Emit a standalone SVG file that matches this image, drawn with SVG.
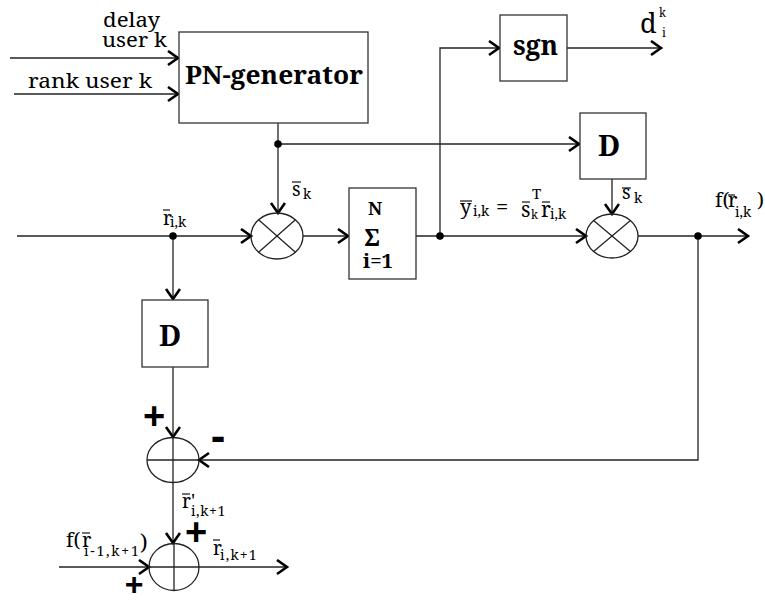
<svg xmlns="http://www.w3.org/2000/svg" width="765" height="601" viewBox="0 0 765 601">
<defs>
<style>
.ln{fill:none;stroke:#222;stroke-width:1.3}
.bx{fill:#fff;stroke:#333;stroke-width:1.3}
.ov{stroke:#111;stroke-width:1.2}
text{font-family:"Noto Serif","DejaVu Serif",serif;fill:#000}
.b{font-weight:bold}
.s{font-family:"Liberation Sans","DejaVu Sans",sans-serif;font-weight:bold}
</style>
<marker id="a" markerUnits="userSpaceOnUse" markerWidth="16" markerHeight="18" refX="12" refY="8" orient="auto">
<path d="M2,1 L12,8 L2,15" fill="none" stroke="#000" stroke-width="2.6"/>
</marker>
</defs>
<rect width="765" height="601" fill="#fff"/>

<g id="connectors">
<line class="ln" x1="10" y1="58" x2="178" y2="58" marker-end="url(#a)"/>
<line class="ln" x1="14" y1="94" x2="178" y2="94" marker-end="url(#a)"/>
<line class="ln" x1="278" y1="123" x2="278" y2="213" marker-end="url(#a)"/>
<line class="ln" x1="278" y1="144" x2="579" y2="144" marker-end="url(#a)"/>
<line class="ln" x1="17" y1="236" x2="251" y2="236" marker-end="url(#a)"/>
<line class="ln" x1="303" y1="236" x2="348" y2="236" marker-end="url(#a)"/>
<line class="ln" x1="416" y1="236" x2="586" y2="236" marker-end="url(#a)"/>
<polyline class="ln" points="440,236 440,48 499,48" marker-end="url(#a)"/>
<line class="ln" x1="567" y1="48" x2="661" y2="48" marker-end="url(#a)"/>
<line class="ln" x1="612" y1="179" x2="612" y2="214" marker-end="url(#a)"/>
<line class="ln" x1="638" y1="236" x2="748" y2="236" marker-end="url(#a)"/>
<polyline class="ln" points="698,236 698,460 199,460" marker-end="url(#a)"/>
<line class="ln" x1="173" y1="236" x2="173" y2="299" marker-end="url(#a)"/>
<line class="ln" x1="173" y1="367" x2="173" y2="437" marker-end="url(#a)"/>
<line class="ln" x1="173" y1="483" x2="173" y2="543" marker-end="url(#a)"/>
<line class="ln" x1="59" y1="567" x2="149" y2="567" marker-end="url(#a)"/>
<line class="ln" x1="199" y1="567" x2="287" y2="567" marker-end="url(#a)"/>
<circle cx="278" cy="144" r="3.8" fill="#000"/>
<circle cx="173" cy="236" r="3.8" fill="#000"/>
<circle cx="440" cy="236" r="3.8" fill="#000"/>
<circle cx="698" cy="236" r="3.8" fill="#000"/>
</g>

<g id="pn-generator">
<rect class="bx" x="179" y="32" width="189" height="91"/>
<text class="b" x="185" y="84" font-size="26" textLength="178" lengthAdjust="spacingAndGlyphs">PN-generator</text>
</g>
<g id="inputs-labels">
<text x="160" y="27" font-size="19" text-anchor="end" textLength="57" lengthAdjust="spacingAndGlyphs">delay</text>
<text x="167" y="47" font-size="19" text-anchor="end" textLength="65" lengthAdjust="spacingAndGlyphs">user k</text>
<text x="28" y="88" font-size="20" textLength="124" lengthAdjust="spacingAndGlyphs">rank user k</text>
</g>

<g id="sgn">
<rect class="bx" x="500" y="15" width="67" height="66"/>
<text class="b" x="513" y="55" font-size="27" textLength="45" lengthAdjust="spacingAndGlyphs">sgn</text>
</g>
<g id="out-d">
<text x="640" y="33" font-size="27">d<tspan x="659" y="17" font-size="12">k</tspan><tspan x="662" y="37" font-size="12">i</tspan></text>
</g>

<g id="delay-right">
<rect class="bx" x="580" y="113" width="66" height="66"/>
<text class="b" x="609" y="156" font-size="29" text-anchor="middle">D</text>
</g>

<g id="mult1">
<ellipse class="ln" cx="277" cy="236" rx="26" ry="23"/>
<line class="ln" x1="258.6" y1="219.7" x2="295.4" y2="252.3"/>
<line class="ln" x1="258.6" y1="252.3" x2="295.4" y2="219.7"/>
</g>

<g id="sum">
<rect class="bx" x="349" y="188" width="67" height="91"/>
<text class="b" x="375" y="215" font-size="18" text-anchor="middle">N</text>
<text class="b" x="372" y="246" font-size="24" text-anchor="middle">Σ</text>
<text class="b" x="363" y="268" font-size="20" textLength="30" lengthAdjust="spacingAndGlyphs">i=1</text>
</g>

<g id="mult2">
<ellipse class="ln" cx="612" cy="236" rx="26" ry="22"/>
<line class="ln" x1="593.6" y1="220.4" x2="630.4" y2="251.6"/>
<line class="ln" x1="593.6" y1="251.6" x2="630.4" y2="220.4"/>
</g>

<g id="delay-left">
<rect class="bx" x="142" y="300" width="66" height="67"/>
<text class="b" x="170" y="346" font-size="29" text-anchor="middle">D</text>
</g>

<g id="adder1">
<ellipse class="ln" cx="173" cy="460" rx="26" ry="22.5"/>
<line class="ln" x1="147" y1="460" x2="199" y2="460" stroke-width="2"/>
<line class="ln" x1="173" y1="437" x2="173" y2="483"/>
<text class="s" x="154" y="429" font-size="38" text-anchor="middle">+</text>
<text class="s" x="218" y="451" font-size="44" text-anchor="middle">-</text>
</g>

<g id="adder2">
<ellipse class="ln" cx="174" cy="567" rx="25" ry="23.5"/>
<line class="ln" x1="149" y1="567" x2="199" y2="567" stroke-width="2"/>
<line class="ln" x1="174" y1="543" x2="174" y2="590"/>
<text class="s" x="196" y="545" font-size="38" text-anchor="middle">+</text>
<text class="s" x="134" y="595" font-size="32" text-anchor="middle">+</text>
</g>

<g id="labels">
<text x="163" y="225" font-size="19">r<tspan x="170" y="227" font-size="14">i,k</tspan></text>
<line class="ov" x1="163" y1="210" x2="170" y2="210"/>

<text x="292" y="196" font-size="19">s<tspan x="303" y="199" font-size="14">k</tspan></text>
<line class="ov" x1="292" y1="182" x2="301" y2="182"/>

<text x="460" y="214" font-size="20">y<tspan x="473" y="216" font-size="14">i,k</tspan><tspan x="496" y="214" font-size="22">=</tspan><tspan x="521" y="217" font-size="21">s</tspan><tspan x="531" y="219" font-size="12">k</tspan><tspan x="532" y="199" font-size="15">T</tspan><tspan x="541" y="217" font-size="21">r</tspan><tspan x="550" y="219" font-size="14">i,k</tspan></text>
<line class="ov" x1="460" y1="201" x2="472" y2="201"/>
<line class="ov" x1="522" y1="202" x2="530" y2="202"/>
<line class="ov" x1="542" y1="202" x2="550" y2="202"/>

<text x="622" y="199" font-size="19">s<tspan x="634" y="203" font-size="14">k</tspan></text>
<line class="ov" x1="622" y1="188" x2="631" y2="188"/>

<text x="715" y="207" font-size="20">f(<tspan x="728" y="207">r</tspan><tspan x="735" y="217" font-size="14">i,k</tspan><tspan x="757" y="207">)</tspan></text>
<line class="ov" x1="728" y1="195" x2="735" y2="195"/>

<text x="182" y="508" font-size="19">r'<tspan x="191" y="516" font-size="14" letter-spacing="0.6">i,k+1</tspan></text>
<line class="ov" x1="182" y1="494" x2="190" y2="494"/>

<text x="66" y="547" font-size="20">f(<tspan x="82" y="547">r</tspan><tspan x="84" y="556" font-size="14" letter-spacing="1.8">i-1,k+1</tspan><tspan x="140" y="550" font-size="22">)</tspan></text>
<line class="ov" x1="82" y1="533" x2="90" y2="533"/>

<text x="213" y="555" font-size="19">r<tspan x="220" y="560" font-size="14" letter-spacing="1.2">i,k+1</tspan></text>
<line class="ov" x1="213" y1="540" x2="220" y2="540"/>
</g>
</svg>
